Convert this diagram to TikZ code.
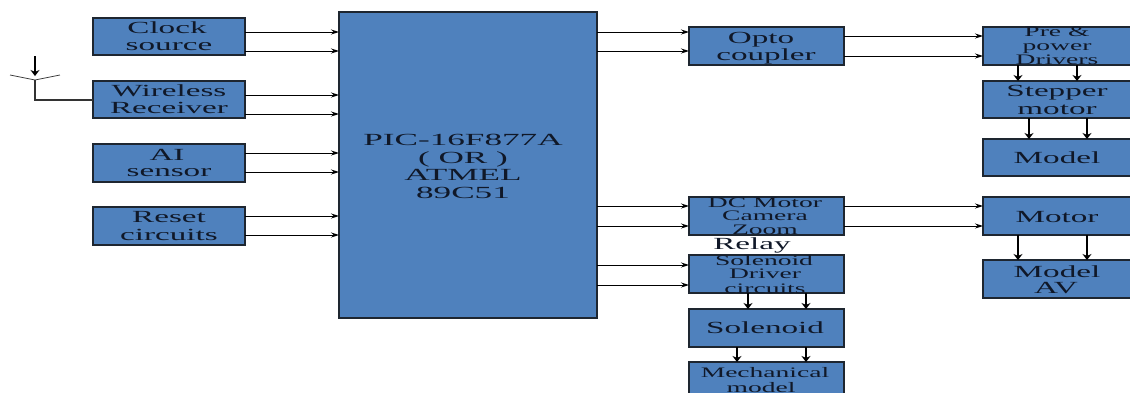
\documentclass[tikz,border=0pt]{standalone}
\usepackage{graphicx}
\usepackage{fontspec}
\setmainfont{Liberation Serif}
\usetikzlibrary{arrows.meta}
\definecolor{boxblue}{HTML}{4F81BD}
\definecolor{boxedge}{HTML}{1E2630}
\definecolor{inktext}{HTML}{101828}
\tikzset{
  x=1pt,y=-1pt,
  blockbox/.style={draw=boxedge,fill=boxblue,line width=1.3pt,inner sep=0pt,outer sep=0pt},
  lab/.style={inner sep=0pt,text=inktext,anchor=base},
  hwire/.style={draw=black,line width=0.9pt,-{Stealth[length=8pt,width=5pt]}},
  vwire/.style={draw=black,line width=1.4pt,-{Stealth[length=6pt,width=9pt]}},
  plain/.style={draw=black!80,line width=1pt}
}
\newcommand{\blk}[5]{\node[blockbox,minimum width={(#4-#2)*1pt},minimum height={(#5-#3)*1pt}] (#1) at ({(#2+#4)/2},{(#3+#5)/2}) {};}
\newcommand{\txt}[4]{\node[lab] (#1) at (#2,#3) {\scalebox{1.95}[1]{\fontsize{17}{17}\selectfont #4}};}
\newcommand{\txp}[4]{\node[lab] (#1) at (#2,#3) {\scalebox{2.07}[1]{\fontsize{17}{17}\selectfont #4}};}
\newcommand{\txs}[4]{\node[lab] (#1) at (#2,#3) {\scalebox{1.9}[1]{\fontsize{14.5}{15}\selectfont #4}};}
\begin{document}
\begin{tikzpicture}
\useasboundingbox (0,0) rectangle (1130,392);
\clip (0,0) rectangle (1130,392);
\blk{clk}{93}{18}{245}{55}
\blk{wir}{93}{81}{245}{118}
\blk{ais}{93}{144}{245}{182}
\blk{rst}{93}{207}{245}{245}
\blk{pic}{339}{12}{597}{318}
\blk{opt}{689}{27}{844}{65}
\blk{dcm}{689}{197}{844}{235}
\blk{drv}{689}{255}{844}{293}
\blk{sol}{689}{309}{844}{347}
\blk{mec}{689}{362}{844}{402}
\blk{pre}{983}{27}{1132}{65}
\blk{stp}{983}{81}{1132}{118}
\blk{mdl}{983}{139}{1132}{176}
\blk{mot}{983}{197}{1132}{235}
\blk{mav}{983}{260}{1132}{298}
\txt{t1}{167}{33.5}{Clock}
\txt{t2}{169}{50.5}{source}
\txt{t3}{169}{96}{Wireless}
\txt{t4}{169}{113.5}{Receiver}
\txt{t5}{167}{160}{AI}
\txt{t6}{169}{176.5}{sensor}
\txt{t7}{169}{222}{Reset}
\txt{t8}{169}{240}{circuits}
\txp{t9}{463}{145}{PIC-16F877A}
\txp{t10}{463}{163}{( OR )}
\txp{t11}{463}{180}{ATMEL}
\txp{t12}{463}{198}{89C51}
\txt{t13}{761}{43}{Opto}
\txt{t14}{766}{60}{coupler}
\txs{t15}{765}{207}{DC Motor}
\txs{t16}{765}{220}{Camera}
\txs{t17}{765}{234}{Zoom}
\txt{t18}{752}{249}{Relay}
\txs{t19}{764}{265}{Solenoid}
\txs{t20}{765}{278}{Driver}
\txs{t21}{765}{293}{circuits}
\txt{t22}{765}{333}{Solenoid}
\txs{t23}{765}{377}{Mechanical}
\txs{t24}{761}{392}{model}
\txs{t25}{1057}{36}{Pre \&}
\txs{t26}{1057}{50}{power}
\txs{t27}{1057}{64}{Drivers}
\txt{t28}{1057}{96}{Stepper}
\txt{t29}{1057}{114}{motor}
\txt{t30}{1057}{163}{Model}
\txt{t31}{1057}{222}{Motor}
\txt{t32}{1057}{277}{Model}
\txt{t33}{1056}{293}{AV}
% horizontal connectors
\foreach \a/\b/\yy in {clk/pic/32,clk/pic/51,wir/pic/95,wir/pic/114,ais/pic/153,ais/pic/172,rst/pic/216,rst/pic/235,
  pic/opt/32,pic/opt/51,opt/pre/36,opt/pre/56,pic/dcm/206,pic/dcm/226,pic/drv/265,pic/drv/285,dcm/mot/206,dcm/mot/226}
  \draw[hwire] (\a.east |- 0,\yy) -- (\b.west |- 0,\yy);
% vertical connectors
\foreach \a/\b/\xx in {pre/stp/1018,pre/stp/1077,stp/mdl/1029,stp/mdl/1087,mot/mav/1018,mot/mav/1087,drv/sol/748,drv/sol/806,sol/mec/737,sol/mec/806}
  \draw[vwire] (\xx,0 |- \a.south) -- (\xx,0 |- \b.north);
% antenna
\coordinate (antL) at (10,75);
\coordinate (antR) at (60,75);
\coordinate (antM) at (35,80);
\coordinate (antT) at (35,56);
\coordinate (antB) at (35,76);
\draw[plain,line width=0.7pt] (antL) -- (antM) -- (antR);
\draw[vwire] (antT) -- (antB);
\draw[plain,line width=1.2pt] (antM) |- (wir.west |- 0,100);
\end{tikzpicture}
\end{document}
